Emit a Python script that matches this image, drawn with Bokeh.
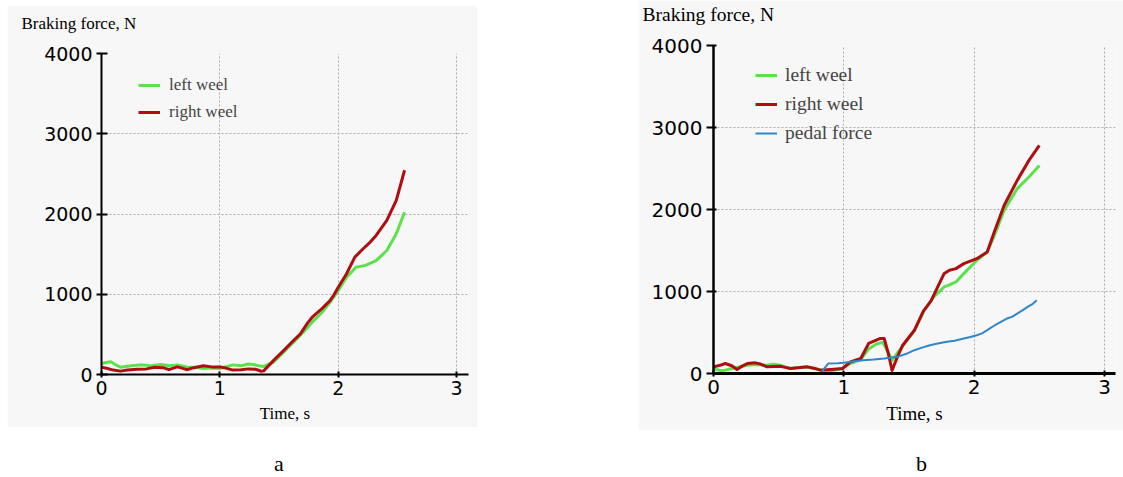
from bokeh.plotting import figure
from bokeh.models import Range1d, Legend, LegendItem, Title, Div, Spacer, FixedTicker
from bokeh.layouts import row, column
from bokeh.embed import file_html
from bokeh.resources import INLINE

# ---------------- data: panel a ----------------
a_left_t = [0, 0.04, 0.08, 0.12, 0.16, 0.25, 0.33, 0.42, 0.5, 0.57, 0.64, 0.72, 0.8, 0.86, 0.93,
            1.0, 1.06, 1.11, 1.18, 1.24, 1.28, 1.33, 1.37, 1.45, 1.54, 1.62, 1.70, 1.78, 1.86,
            1.93, 2.0, 2.07, 2.15, 2.23, 2.32, 2.41, 2.49, 2.56]
a_left_v = [135, 150, 160, 120, 90, 110, 120, 110, 125, 110, 120, 95, 90, 75, 80,
            75, 100, 120, 110, 130, 125, 110, 100, 150, 280, 400, 520, 652, 770,
            900, 1046, 1212, 1337, 1360, 1420, 1545, 1753, 2022]
a_right_t = [0, 0.05, 0.1, 0.16, 0.22, 0.3, 0.38, 0.45, 0.52, 0.57, 0.64, 0.68, 0.72, 0.78, 0.86,
             0.93, 1.0, 1.05, 1.11, 1.18, 1.24, 1.3, 1.35, 1.37, 1.45, 1.54, 1.62, 1.68, 1.74,
             1.78, 1.86, 1.93, 1.96, 2.0, 2.07, 2.14, 2.21, 2.27, 2.32, 2.41, 2.49, 2.56]
a_right_v = [92, 75, 55, 42, 55, 65, 70, 90, 85, 60, 95, 80, 60, 85, 110,
             95, 95, 80, 55, 60, 70, 65, 40, 45, 170, 300, 420, 507, 640,
             714, 818, 920, 984, 1088, 1255, 1463, 1567, 1650, 1733, 1920, 2170, 2545]

# ---------------- data: panel b ----------------
b_left_t = [0, 0.05, 0.09, 0.14, 0.18, 0.26, 0.32, 0.41, 0.46, 0.51, 0.55, 0.59, 0.65, 0.72,
            0.77, 0.82, 0.9, 0.99, 1.05, 1.13, 1.19, 1.25, 1.30, 1.34, 1.37, 1.41, 1.45, 1.54,
            1.61, 1.69, 1.77, 1.81, 1.86, 1.92, 2.02, 2.1, 2.15, 2.23, 2.33, 2.42, 2.5]
b_left_v = [61, 35, 41, 60, 75, 100, 110, 100, 114, 100, 80, 62, 73, 80,
            60, 45, 32, 61, 122, 170, 300, 360, 380, 260, 160, 250, 330, 520,
            750, 934, 1056, 1080, 1117, 1218, 1381, 1482, 1665, 1990, 2254, 2396, 2538]
b_right_t = [0, 0.05, 0.09, 0.14, 0.18, 0.22, 0.26, 0.32, 0.36, 0.41, 0.46, 0.51, 0.55, 0.59,
             0.65, 0.72, 0.77, 0.82, 0.9, 0.99, 1.05, 1.13, 1.19, 1.24, 1.28, 1.31, 1.34, 1.37,
             1.41, 1.45, 1.54, 1.61, 1.67, 1.77, 1.81, 1.86, 1.92, 2.02, 2.1, 2.15, 2.23, 2.33,
             2.42, 2.5]
b_right_v = [81, 100, 122, 95, 49, 90, 122, 130, 115, 81, 85, 89, 75, 61,
             70, 81, 65, 41, 49, 61, 142, 183, 366, 400, 427, 426, 250, 37,
             200, 341, 524, 760, 890, 1220, 1260, 1279, 1340, 1400, 1482, 1706, 2051, 2355,
             2599, 2782]
b_pedal_t = [0.82, 0.86, 0.88, 0.95, 1.0, 1.08, 1.15, 1.23, 1.31, 1.41, 1.48, 1.54, 1.6, 1.66,
             1.72, 1.79, 1.85, 1.92, 1.97, 2.02, 2.06, 2.1, 2.14, 2.18, 2.25, 2.29, 2.33, 2.37,
             2.41, 2.45, 2.48]
b_pedal_v = [0, 80, 122, 125, 130, 150, 162, 170, 183, 203, 240, 284, 315, 345,
             365, 386, 400, 426, 445, 467, 490, 528, 570, 609, 670, 690, 731, 770,
             812, 850, 893]

x_ticks = [0, 1, 2, 3]
y_ticks = [0, 1000, 2000, 3000, 4000]
series_names_a = ["left weel", "right weel"]
series_names_b = ["left weel", "right weel", "pedal force"]
panel_labels = ["a", "b"]
y_title = "Braking force, N"

GREEN = "#5be14c"
RED = "#b00d12"
BLUE = "#2f86c8"
BG = "#f7f7f7"
GRID = "#ababab"
SERIF = "Liberation Serif"
SANS = "DejaVu Sans"


def make_fig(width, height, bl, br, bt, bb, x_end, tick_size, axis_w_x, axis_w_y,
             ytick_in, ytick_out, xlabel_size, xlabel_standoff,
             title_size, title_offset, title_standoff):
    p = figure(width=width, height=height, output_backend="svg", toolbar_location=None,
               x_range=Range1d(0, x_end), y_range=Range1d(0, 4000),
               min_border_left=bl, min_border_right=br, min_border_top=bt,
               min_border_bottom=bb)
    p.background_fill_color = BG
    p.border_fill_color = BG
    p.outline_line_color = None
    for g in (p.xgrid[0], p.ygrid[0]):
        g.grid_line_color = GRID
        g.grid_line_dash = "2 2"
        g.grid_line_width = 1
    p.xaxis.ticker = FixedTicker(ticks=x_ticks)
    p.yaxis.ticker = FixedTicker(ticks=y_ticks)
    p.xaxis.minor_tick_line_color = None
    p.yaxis.minor_tick_line_color = None
    for ax in (p.xaxis[0], p.yaxis[0]):
        ax.axis_line_color = "black"
        ax.major_tick_line_color = "black"
        ax.major_tick_line_width = 2
        ax.major_label_text_font = SANS
        ax.major_label_text_font_size = tick_size
        ax.major_label_text_color = "black"
    p.xaxis.axis_line_width = axis_w_x
    p.yaxis.axis_line_width = axis_w_y
    p.xaxis.major_tick_in = 3
    p.xaxis.major_tick_out = 3
    p.xaxis.major_label_standoff = 3
    p.yaxis.major_tick_in = ytick_in
    p.yaxis.major_tick_out = ytick_out
    p.yaxis.major_label_standoff = 4
    p.xaxis.axis_label = "Time, s"
    p.xaxis.axis_label_text_font = SERIF
    p.xaxis.axis_label_text_font_style = "normal"
    p.xaxis.axis_label_text_font_size = xlabel_size
    p.xaxis.axis_label_text_color = "black"
    p.xaxis.axis_label_standoff = xlabel_standoff
    # title text plus an empty second line lifts the heading above the plot frame
    p.add_layout(Title(text=y_title + "\n ", align="left", offset=title_offset,
                       standoff=title_standoff, text_font=SERIF,
                       text_font_style="normal", text_font_size=title_size,
                       text_color="black"), "above")
    return p


# ---------------- panel a ----------------
pa = make_fig(470, 422, 94, 9, 48, 53, 3.1, "19px", 2, 2, 6, 5, "17px", 6, "17px", -80, 4)
ra1 = pa.line(a_left_t, a_left_v, line_color=GREEN, line_width=3, line_join="round")
ra2 = pa.line(a_right_t, a_right_v, line_color=RED, line_width=3, line_join="round")
leg_a = Legend(items=[LegendItem(label=series_names_a[0], renderers=[ra1]),
                      LegendItem(label=series_names_a[1], renderers=[ra2])],
               location=(37, 251), margin=0, padding=0, spacing=5,
               glyph_width=22, glyph_height=22, label_height=22, label_standoff=9,
               label_text_font=SERIF, label_text_font_size="17px",
               background_fill_alpha=0, border_line_color=None)
pa.add_layout(leg_a, "center")

# ---------------- panel b ----------------
pb = make_fig(485, 430, 75, 8, 45, 57, 3.084, "20px", 3, 2.5, 3, 7, "19px", 6, "19.5px", -71, 0)
rb1 = pb.line(b_left_t, b_left_v, line_color=GREEN, line_width=3, line_join="round")
rb2 = pb.line(b_right_t, b_right_v, line_color=RED, line_width=3, line_join="round")
rb3 = pb.line(b_pedal_t, b_pedal_v, line_color=BLUE, line_width=2, line_join="round")
leg_b = Legend(items=[LegendItem(label=series_names_b[0], renderers=[rb1]),
                      LegendItem(label=series_names_b[1], renderers=[rb2]),
                      LegendItem(label=series_names_b[2], renderers=[rb3])],
               location=(42, 228), margin=0, padding=0, spacing=5,
               glyph_width=22, glyph_height=24, label_height=24, label_standoff=8,
               label_text_font=SERIF, label_text_font_size="19.5px",
               background_fill_alpha=0, border_line_color=None)
pb.add_layout(leg_b, "center")

# ---------------- panel captions ----------------
cap_style = "font-family:'Liberation Serif';font-size:22px;line-height:22px;padding-top:23px;color:black;"
div_a = Div(text=f'<div style="width:558px;text-align:center;{cap_style}">{panel_labels[0]}</div>',
            width=558, height=47, margin=0)
div_b = Div(text=f'<div style="width:565px;text-align:left;padding-left:358px;{cap_style}">{panel_labels[1]}</div>',
            width=565, height=47, margin=0)

col_a = column(Spacer(width=470, height=5), pa, spacing=0)
top = row(Spacer(width=7, height=10), col_a, Spacer(width=161, height=10), pb, spacing=0)
bottom = row(div_a, div_b, spacing=0)
layout = column(top, bottom, spacing=0)

open("out.html", "w").write(file_html(layout, INLINE))
